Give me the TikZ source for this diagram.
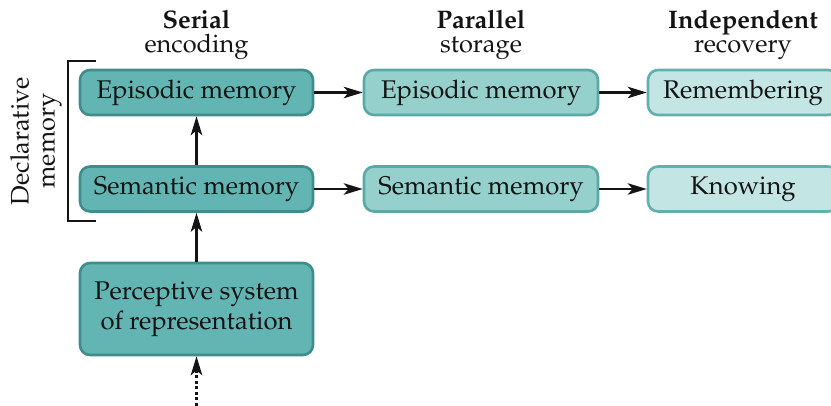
\documentclass[tikz,border=0pt]{standalone}
\usepackage[T1]{fontenc}
\usepackage{mathpazo}
\usetikzlibrary{arrows.meta}
\definecolor{serfill}{HTML}{63B5B3}
\definecolor{serdraw}{HTML}{3F8D8B}
\definecolor{parfill}{HTML}{95D0CD}
\definecolor{pardraw}{HTML}{5AA9A6}
\definecolor{indfill}{HTML}{C3E6E5}
\definecolor{inddraw}{HTML}{62B0AE}
\definecolor{txt}{HTML}{141414}
\tikzset{
  box/.style={rounded corners=10pt, line width=2.6pt, minimum height=45pt, text=txt, inner sep=0pt,
    font=\fontsize{25.6}{30}\selectfont},
  serbox/.style={box, fill=serfill, draw=serdraw, minimum width=233pt},
  parbox/.style={box, fill=parfill, draw=pardraw, minimum width=234pt},
  indbox/.style={box, fill=indfill, draw=inddraw, minimum width=190pt},
  conn/.style={line width=2.4pt, -{Stealth[length=19pt,width=11.5pt,inset=5pt]}, draw=txt},
  hdr/.style={anchor=base, text=txt, font=\fontsize{25.4}{29}\selectfont},
}
\begin{document}
\begin{tikzpicture}[x=1pt,y=-1pt]
\useasboundingbox (0,0) rectangle (831,406);
% headers
\node[hdr] (h1a) at (196.5,29) {\bfseries Serial};
\node[hdr] (h1b) at (196.5,53) {encoding};
\node[hdr] (h2a) at (481,29) {\bfseries Parallel};
\node[hdr] (h2b) at (481,53) {storage};
\node[hdr] (h3a) at (743,29) {\bfseries Independent};
\node[hdr] (h3b) at (743,53) {recovery};
% boxes
\node[serbox] (se) at (196.5,92.5) {Episodic memory};
\node[serbox] (ss) at (196.5,189) {Semantic memory};
\node[serbox, minimum height=92pt, align=center] (sp) at (196.5,309) {Perceptive system\\of representation};
\node[parbox] (pe) at (481,92.5) {Episodic memory};
\node[parbox] (ps) at (481,189) {Semantic memory};
\node[indbox] (ie) at (743,92.5) {Remembering};
\node[indbox] (is) at (743,189) {Knowing};
% bracket
\draw[line width=2.2pt, draw=txt] (96,61) -- (68,61) -- (68,221) -- (96,221);
\node[rotate=90, align=center, text=txt, font=\fontsize{25.4}{26}\selectfont] (decl) at (36,141) {Declarative\\memory};
% connectors
\draw[conn] (se.east) -- (pe.west);
\draw[conn] (pe.east) -- (ie.west);
\draw[conn] (ss.east) -- (ps.west);
\draw[conn] (ps.east) -- (is.west);
\draw[conn] (ss.north) -- (se.south);
\draw[conn] (sp.north) -- (ss.south);
\coordinate (src) at (196.5,406);
\draw[conn, dash pattern=on 3pt off 2.5pt] (src) -- (sp.south);
\end{tikzpicture}
\end{document}
